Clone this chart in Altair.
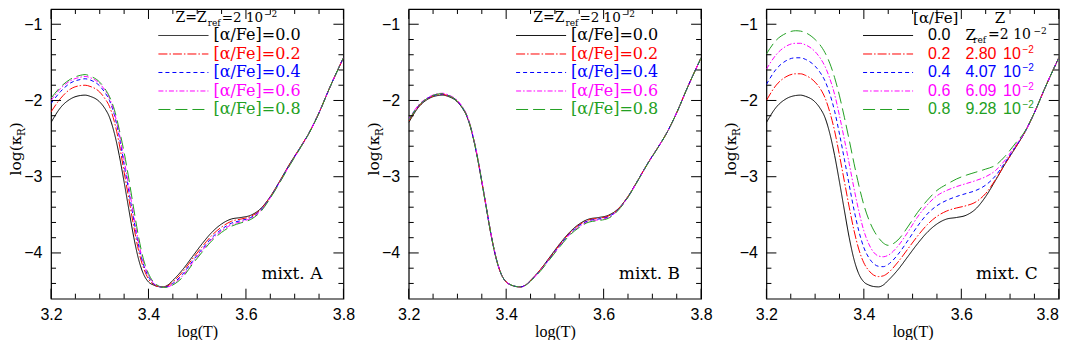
import altair as alt
import pandas as pd

# ---------------- data ----------------
LOGT = [3.20, 3.22, 3.24, 3.26, 3.27, 3.28, 3.30, 3.31, 3.32, 3.33, 3.34, 3.35, 3.36,
        3.37, 3.38, 3.39, 3.40, 3.41, 3.42, 3.43, 3.44, 3.45, 3.47, 3.49, 3.51, 3.53,
        3.55, 3.57, 3.59, 3.61, 3.63, 3.65, 3.67, 3.69, 3.71, 3.73, 3.75, 3.77, 3.80]

K_00 = [-2.29, -2.09, -1.98, -1.935, -1.93, -1.945, -2.02, -2.10, -2.22, -2.43, -2.72, -3.07, -3.44,
        -3.80, -4.09, -4.28, -4.38, -4.42, -4.44, -4.445, -4.42, -4.36, -4.22, -4.05, -3.88, -3.73,
        -3.62, -3.555, -3.535, -3.505, -3.42, -3.26, -3.05, -2.83, -2.63, -2.42, -2.16, -1.86, -1.44]

A_02 = [-2.15, -1.97, -1.85, -1.805, -1.80, -1.815, -1.89, -1.97, -2.08, -2.28, -2.57, -2.94, -3.30,
        -3.66, -3.98, -4.20, -4.34, -4.41, -4.44, -4.445, -4.43, -4.38, -4.25, -4.08, -3.92, -3.77,
        -3.66, -3.585, -3.555, -3.52, -3.43, -3.265, -3.055, -2.835, -2.63, -2.42, -2.16, -1.86, -1.44]
A_04 = [-2.04, -1.88, -1.77, -1.725, -1.715, -1.73, -1.81, -1.89, -2.00, -2.19, -2.47, -2.84, -3.20,
        -3.57, -3.91, -4.16, -4.31, -4.40, -4.44, -4.45, -4.44, -4.40, -4.28, -4.11, -3.95, -3.80,
        -3.69, -3.61, -3.575, -3.535, -3.44, -3.27, -3.06, -2.84, -2.635, -2.42, -2.16, -1.86, -1.44]
A_06 = [-2.00, -1.84, -1.74, -1.695, -1.685, -1.70, -1.78, -1.86, -1.97, -2.16, -2.43, -2.78, -3.14,
        -3.52, -3.87, -4.13, -4.29, -4.39, -4.435, -4.45, -4.445, -4.41, -4.30, -4.13, -3.97, -3.82,
        -3.71, -3.63, -3.59, -3.545, -3.45, -3.275, -3.065, -2.845, -2.64, -2.425, -2.16, -1.86, -1.44]
A_08 = [-1.97, -1.82, -1.72, -1.67, -1.66, -1.68, -1.76, -1.84, -1.95, -2.12, -2.38, -2.68, -3.04,
        -3.43, -3.80, -4.09, -4.27, -4.38, -4.43, -4.45, -4.45, -4.42, -4.32, -4.15, -3.99, -3.84,
        -3.73, -3.65, -3.605, -3.56, -3.46, -3.28, -3.07, -2.85, -2.64, -2.425, -2.165, -1.86, -1.44]

B_02 = [-2.27, -2.08, -1.97, -1.925, -1.92, -1.935, -2.01, -2.09, -2.21, -2.42, -2.71, -3.06, -3.43,
        -3.79, -4.08, -4.28, -4.38, -4.42, -4.44, -4.445, -4.42, -4.36, -4.22, -4.06, -3.89, -3.74,
        -3.63, -3.565, -3.545, -3.515, -3.425, -3.26, -3.05, -2.83, -2.63, -2.42, -2.16, -1.86, -1.44]
B_04 = [-2.25, -2.07, -1.965, -1.92, -1.915, -1.93, -2.01, -2.09, -2.21, -2.42, -2.71, -3.06, -3.43,
        -3.79, -4.08, -4.28, -4.38, -4.42, -4.44, -4.445, -4.42, -4.365, -4.23, -4.07, -3.90, -3.75,
        -3.64, -3.575, -3.555, -3.525, -3.43, -3.265, -3.05, -2.83, -2.63, -2.42, -2.16, -1.86, -1.44]
B_06 = [-2.25, -2.06, -1.96, -1.91, -1.905, -1.925, -2.00, -2.08, -2.20, -2.41, -2.70, -3.05, -3.42,
        -3.79, -4.08, -4.28, -4.38, -4.42, -4.44, -4.445, -4.42, -4.37, -4.23, -4.07, -3.91, -3.76,
        -3.655, -3.585, -3.565, -3.535, -3.435, -3.27, -3.055, -2.835, -2.63, -2.42, -2.16, -1.86, -1.44]
B_08 = [-2.26, -2.07, -1.965, -1.915, -1.91, -1.93, -2.01, -2.09, -2.21, -2.42, -2.71, -3.06, -3.43,
        -3.79, -4.08, -4.28, -4.38, -4.42, -4.44, -4.445, -4.425, -4.37, -4.24, -4.08, -3.92, -3.77,
        -3.665, -3.595, -3.575, -3.545, -3.44, -3.27, -3.055, -2.835, -2.635, -2.42, -2.16, -1.86, -1.44]

C_02 = [-2.00, -1.80, -1.69, -1.65, -1.65, -1.67, -1.76, -1.84, -1.96, -2.15, -2.40, -2.72, -3.06,
        -3.40, -3.71, -3.96, -4.13, -4.23, -4.29, -4.31, -4.30, -4.26, -4.12, -3.95, -3.78, -3.63,
        -3.52, -3.45, -3.41, -3.38, -3.33, -3.22, -3.04, -2.83, -2.63, -2.42, -2.16, -1.86, -1.44]
C_04 = [-1.79, -1.59, -1.48, -1.44, -1.44, -1.46, -1.55, -1.63, -1.74, -1.91, -2.14, -2.44, -2.77,
        -3.11, -3.44, -3.72, -3.93, -4.06, -4.14, -4.175, -4.18, -4.15, -4.02, -3.84, -3.65, -3.49,
        -3.38, -3.31, -3.26, -3.22, -3.18, -3.11, -2.99, -2.81, -2.62, -2.42, -2.16, -1.86, -1.44]
C_06 = [-1.59, -1.40, -1.29, -1.25, -1.25, -1.27, -1.36, -1.44, -1.55, -1.71, -1.92, -2.20, -2.51,
        -2.83, -3.16, -3.46, -3.71, -3.88, -3.99, -4.04, -4.05, -4.03, -3.91, -3.73, -3.53, -3.37,
        -3.25, -3.18, -3.13, -3.09, -3.05, -3.00, -2.92, -2.78, -2.60, -2.42, -2.16, -1.86, -1.44]
C_08 = [-1.39, -1.21, -1.12, -1.085, -1.09, -1.11, -1.20, -1.27, -1.37, -1.51, -1.70, -1.94, -2.22,
        -2.52, -2.83, -3.12, -3.37, -3.56, -3.70, -3.80, -3.87, -3.90, -3.83, -3.66, -3.47, -3.31,
        -3.18, -3.10, -3.03, -2.98, -2.94, -2.90, -2.85, -2.73, -2.57, -2.41, -2.16, -1.86, -1.44]

ALPHAS = ["0.0", "0.2", "0.4", "0.6", "0.8"]
Z_C = ["2.80", "4.07", "6.09", "9.28"]
PANELS = {
    "A": [K_00, A_02, A_04, A_06, A_08],
    "B": [K_00, B_02, B_04, B_06, B_08],
    "C": [K_00, C_02, C_04, C_06, C_08],
}

X_MAJOR = [3.2, 3.4, 3.6, 3.8]
X_MINOR = [3.25, 3.3, 3.35, 3.45, 3.5, 3.55, 3.65, 3.7, 3.75]
Y_MAJOR = [-1, -2, -3, -4]
Y_MINOR = [-1.2, -1.4, -1.6, -1.8, -2.2, -2.4, -2.6, -2.8, -3.2, -3.4, -3.6, -3.8,
           -4.2, -4.4]

# ---------------- styles ----------------
COLORS = ["#000000", "#ff0000", "#0000ff", "#ff00ff", "#22a022"]
DASHES = [[1, 0], [9, 2, 1.5, 2], [4, 3], [5, 2, 1.5, 2], [12, 5]]
W = 292.4
H = 289.7
ROW_Y = [26.5, 45, 63.5, 82, 100.5]
SERIF = "DejaVu Serif"
SANS = "Liberation Sans"
XLABEL_PAD = 8

XS = alt.Scale(domain=[3.2, 3.8], nice=False, zero=False)
YS = alt.Scale(domain=[-4.6, -0.8], nice=False, zero=False)
CS = alt.Scale(domain=ALPHAS, range=COLORS)
DS = alt.Scale(domain=ALPHAS, range=DASHES)
YAX = alt.Axis(values=Y_MAJOR, format="d", labelPadding=9, title=None)
DUMMY = pd.DataFrame({"d": [0]})


def xaxis(values):
    return alt.Axis(values=values, format=".1f", labelFlush=False, labelOverlap=False,
                    labelPadding=XLABEL_PAD, title="log(T)", titlePadding=1)


def Y():
    return alt.Y("logk:Q", scale=YS, axis=YAX)


def COL():
    return alt.Color("alpha:N", scale=CS, legend=None)


def DASH():
    return alt.StrokeDash("alpha:N", scale=DS, legend=None)


def txt(text, x, y, color="black", font=SERIF, size=16, align="left",
        baseline="middle", angle=None):
    kw = dict(align=align, baseline=baseline, font=font, fontSize=size, color=color)
    if angle is not None:
        kw["angle"] = angle
    return alt.Chart(DUMMY).mark_text(**kw).encode(
        x=alt.value(x), y=alt.value(y), text=alt.value(text))


def seg(x1, x2, y, alpha):
    return alt.Chart(pd.DataFrame({"alpha": [alpha]})).mark_rule(strokeWidth=1).encode(
        x=alt.value(x1), x2=alt.value(x2), y=alt.value(y), color=COL(), strokeDash=DASH())


def ticks(X):
    layers = []
    for vals, ln in ((X_MAJOR, 10), (X_MINOR, 5)):
        d = pd.DataFrame({"logT": vals})
        layers.append(alt.Chart(d).mark_rule(color="black", strokeWidth=1).encode(
            x=X(), y=alt.value(H), y2=alt.value(H - ln)))
        layers.append(alt.Chart(d).mark_rule(color="black", strokeWidth=1).encode(
            x=X(), y=alt.value(0.5), y2=alt.value(ln)))
    for vals, ln in ((Y_MAJOR, 10), (Y_MINOR, 5)):
        d = pd.DataFrame({"logk": vals})
        layers.append(alt.Chart(d).mark_rule(color="black", strokeWidth=1).encode(
            y=Y(), x=alt.value(0), x2=alt.value(ln)))
        layers.append(alt.Chart(d).mark_rule(color="black", strokeWidth=1).encode(
            y=Y(), x=alt.value(W), x2=alt.value(W - ln)))
    return layers


def ytitle():
    return [
        txt("log(κ", -30, 166.5, size=15.5, baseline="alphabetic", angle=270),
        txt("R", -26, 127, size=10.5, baseline="alphabetic", angle=270),
        txt(")", -30, 119.3, size=15.5, baseline="alphabetic", angle=270),
    ]


def panel(name):
    last = name == "C"
    ax = xaxis(X_MAJOR[:-1] if last else X_MAJOR)

    def X():
        return alt.X("logT:Q", scale=XS, axis=ax)

    rows = []
    for a, series in zip(ALPHAS, PANELS[name]):
        for t, k in zip(LOGT, series):
            rows.append({"logT": t, "logk": k, "alpha": a})
    df = pd.DataFrame(rows)
    lines = alt.Chart(df).mark_line(strokeWidth=1, interpolate="monotone", clip=True).encode(
        x=X(), y=Y(), color=COL(), strokeDash=DASH(),
        order=alt.Order("alpha:N", sort="descending"),
    )
    layers = [lines] + ticks(X) + ytitle()
    if name in ("A", "B"):
        layers += [
            txt("Z=Z", 155.7, 9, size=14, align="right"),
            txt("ref", 156.7, 14.5, size=9),
            txt("=2 10", 170.7, 9, size=13.5),
            txt("−2", 213, 5.5, size=9),
        ]
        for i, a in enumerate(ALPHAS):
            layers.append(seg(107.4, 157.4, ROW_Y[i], a))
            layers.append(txt(f"[α/Fe]={a}", 162.4, ROW_Y[i], color=COLORS[i], size=16))
    else:
        layers += [
            txt("[α/Fe]", 146.7, 9, size=15),
            txt("Z", 228.4, 9, size=15),
        ]
        for i, a in enumerate(ALPHAS):
            y = ROW_Y[i]
            c = COLORS[i]
            layers.append(seg(96.7, 146.7, y, a))
            layers.append(txt(a, 161.7, y, color=c, font=SANS, size=16))
            if i == 0:
                layers += [
                    txt("Z", 199, y, size=15),
                    txt("ref", 206.7, y + 5, size=9),
                    txt("=2 10", 221.7, y, size=14),
                    txt("−2", 267, y - 4, size=9),
                ]
            else:
                layers += [
                    txt(Z_C[i - 1], 199, y, color=c, font=SANS, size=16),
                    txt("10", 236.7, y, color=c, font=SANS, size=16),
                    txt("−2", 256, y - 4, color=c, font=SANS, size=10),
                ]
        # last tick label of the right-hand panel, kept inside the page
        layers.append(txt("3.8", W, H + XLABEL_PAD, font=SANS, size=16, align="right",
                          baseline="top"))
    layers.append(txt(f"mixt. {name}", W - 21, 270, size=17, align="right",
                      baseline="alphabetic"))
    return alt.layer(*layers).properties(width=W, height=H)


chart = alt.hconcat(panel("A"), panel("B"), panel("C"), spacing=64.7, bounds="flush").properties(
    padding=0, background="white"
).configure_view(
    stroke="black", strokeWidth=1.2
).configure_axis(
    labelFont=SANS, labelFontSize=16, labelColor="black", grid=False, ticks=False,
    domain=False, titleFont="Liberation Serif", titleFontSize=16, titleFontWeight="normal",
    titleColor="black"
)

chart.save("out.html", embed_options={"renderer": "svg", "actions": False})
